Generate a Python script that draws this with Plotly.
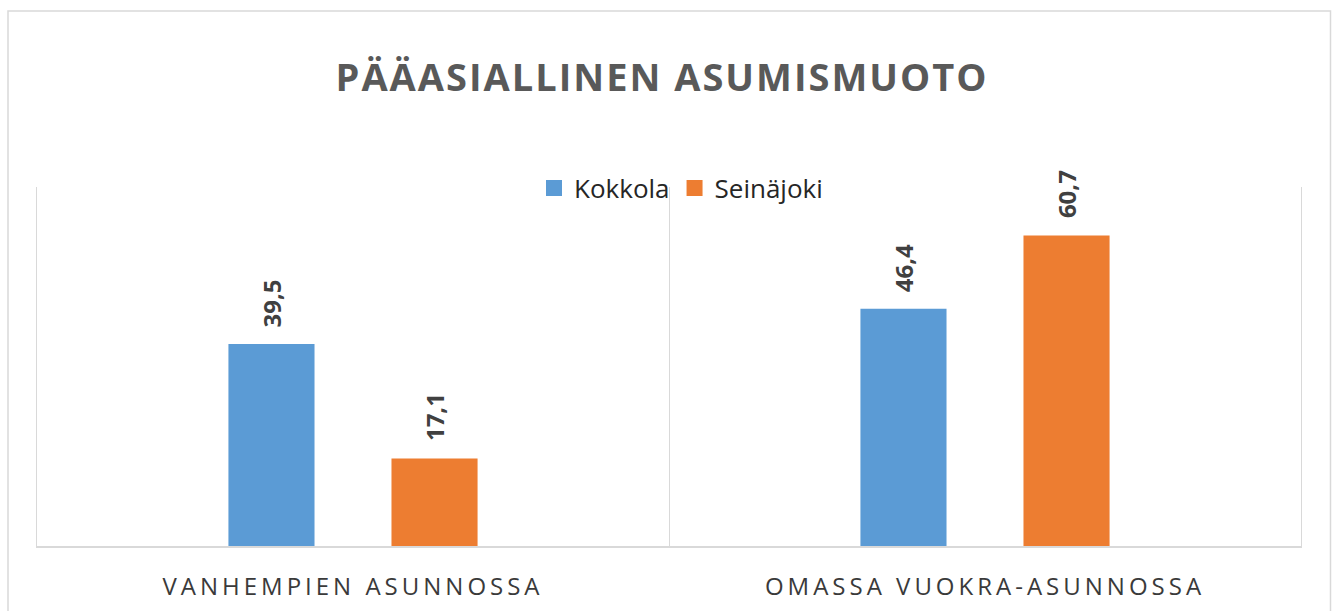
import plotly.graph_objects as go

categories = ["VANHEMPIEN ASUNNOSSA", "OMASSA VUOKRA-ASUNNOSSA"]
kokkola = [39.5, 46.4]
seinajoki = [17.1, 60.7]
series_names = ["Kokkola", "Seinäjoki"]
title_text = "PÄÄASIALLINEN ASUMISMUOTO"

def fmt(v):
    return f"{v:.1f}".replace(".", ",")

W, H = 1336, 611
L, R, T, B = 37, 35, 187, 65
pw, ph = W - L - R, H - T - B
BARGAP, GROUPGAP = 0.484, 0.472

fig = go.Figure()
colors = ["#5B9BD5", "#ED7D31"]
all_vals = [kokkola, seinajoki]
for name, vals, col in zip(series_names, all_vals, colors):
    fig.add_trace(go.Bar(
        x=categories, y=vals, name=name, marker=dict(color=col, line=dict(width=0)),
        showlegend=False, legendgroup=name,
    ))
    # legend entry with a larger square swatch
    fig.add_trace(go.Scatter(
        x=[None], y=[None], mode="markers", name=name, legendgroup=name,
        marker=dict(symbol="square", size=17, color=col),
    ))

# value labels above each bar
cat_px = pw / len(categories)
slot_px = (1 - BARGAP) * cat_px / len(all_vals)
for si, vals in enumerate(all_vals):
    offset = (si - (len(all_vals) - 1) / 2) * slot_px
    for c, v in zip(categories, vals):
        fig.add_annotation(x=c, y=v, xref="x", yref="y", text=f"<b>{fmt(v)}</b>",
                           textangle=-90, showarrow=False, xanchor="center",
                           yanchor="bottom", xshift=offset, yshift=15,
                           font=dict(family="Open Sans", size=24, color="#404040"))

def px_to_paper_x(px):
    return (px - L) / pw

def px_to_paper_y(py):
    return (H - B - py) / ph

fig.add_shape(type="rect", xref="paper", yref="paper",
              x0=px_to_paper_x(8), x1=px_to_paper_x(1330.5),
              y0=px_to_paper_y(620), y1=px_to_paper_y(11),
              line=dict(color="#d9d9d9", width=1.5), fillcolor="rgba(0,0,0,0)", layer="below")

fig.update_layout(
    width=W, height=H,
    margin=dict(l=L, r=R, t=T, b=B, autoexpand=False),
    paper_bgcolor="white", plot_bgcolor="white",
    barmode="group", bargap=BARGAP, bargroupgap=GROUPGAP,
    title=dict(text=f"<b>{title_text}</b>", x=662 / W, xanchor="center",
               y=1 - 78 / H, yanchor="middle",
               font=dict(family="Open Sans", size=38, color="#595959")),
    legend=dict(orientation="h", x=px_to_paper_x(681), xanchor="center",
                y=px_to_paper_y(188), yanchor="middle", itemsizing="trace",
                font=dict(family="Open Sans", size=26, color="#262626"),
                bgcolor="rgba(0,0,0,0)", itemwidth=30, tracegroupgap=0),
    xaxis=dict(tickson="boundaries", showgrid=True, gridcolor="#d9d9d9", gridwidth=1,
               showline=True, linecolor="#d9d9d9", linewidth=1.5,
               ticks="", ticklabelstandoff=18,
               tickfont=dict(family="Open Sans", size=24, color="#3a3a3a")),
    yaxis=dict(range=[0, 70.2], showgrid=False, showticklabels=False, zeroline=False,
               showline=True, mirror=True, linecolor="#d9d9d9", linewidth=1,
               fixedrange=True),
    showlegend=True,
)

post = """
document.body.style.margin = '0';
document.querySelectorAll('.xtick text').forEach(function(t){ t.style.letterSpacing = '4px'; });
document.querySelectorAll('.gtitle').forEach(function(t){ t.style.letterSpacing = '2px'; });
"""
fig.write_html("out.html", post_script=post, config={"displayModeBar": False})
